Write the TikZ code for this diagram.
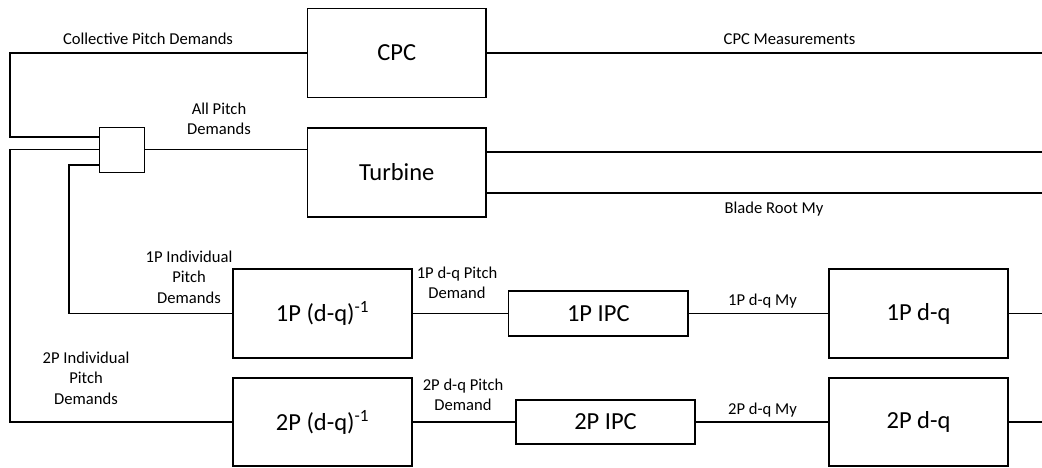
\documentclass[tikz,border=0pt]{standalone}
\usepackage{fontspec}
\setmainfont{Carlito}
\begin{document}
\begin{tikzpicture}[x=1pt,y=-1pt,
  blk/.style={draw,line width=1.1pt,rectangle,inner sep=0pt,font=\fontsize{24.5}{29}\selectfont},
  lbl/.style={align=center,inner sep=0pt,font=\fontsize{16.6}{20.5}\selectfont},
  wire/.style={line width=1.1pt}]
\useasboundingbox (0,0) rectangle (1042,467);
% blocks
\node[blk,minimum width=178.5pt,minimum height=89.5pt] (cpc) at (396.75,53) {CPC};
\node[blk,minimum width=178.5pt,minimum height=89pt] (turb) at (396.75,172.5) {Turbine};
\node[blk,minimum width=45pt,minimum height=45pt] (sum) at (121.7,149.8) {};
\node[blk,minimum width=179pt,minimum height=89pt] (inv1) at (322.5,313.5) {1P (d-q)\textsuperscript{-1}};
\node[blk,minimum width=179pt,minimum height=88pt] (inv2) at (322.5,422) {2P (d-q)\textsuperscript{-1}};
\node[blk,minimum width=179.3pt,minimum height=45pt] (ipc1) at (598.3,313.5) {1P IPC};
\node[blk,minimum width=179pt,minimum height=44pt] (ipc2) at (605.5,422) {2P IPC};
\node[blk,minimum width=179pt,minimum height=89pt] (dq1) at (918.5,313.5) {1P d-q};
\node[blk,minimum width=179pt,minimum height=88pt] (dq2) at (918.5,422) {2P d-q};
% free ends
\coordinate (cL) at (10,53);
\coordinate (l2) at (10,149.5);
\coordinate (l1) at (69,165);
\coordinate (rCPC) at (1042,53);
\coordinate (rT1) at (1042,152);
\coordinate (rT2) at (1042,193);
\coordinate (r1) at (1042,313.5);
\coordinate (r2) at (1042,422);
% wires
\draw[wire] (cpc.west) -- (cL) |- ([yshift=12.8pt]sum.west);
\draw[wire] (inv2.west) -| (l2) -- (l2 -| sum.west);
\draw[wire] (inv1.west) -| (l1) -- (l1 -| sum.west);
\draw[wire] (l2 -| sum.east) -- (l2 -| turb.west);
\draw[wire] (cpc.east) -- (rCPC);
\draw[wire] (rT1 -| turb.east) -- (rT1);
\draw[wire] (rT2 -| turb.east) -- (rT2);
\draw[wire] (inv1.east) -- (ipc1.west);
\draw[wire] (ipc1.east) -- (dq1.west);
\draw[wire] (dq1.east) -- (r1);
\draw[wire] (inv2.east) -- (ipc2.west);
\draw[wire] (ipc2.east) -- (dq2.west);
\draw[wire] (dq2.east) -- (r2);
% labels
\node[lbl] (tColl) at (148,39) {Collective Pitch Demands};
\node[lbl] (tMeas) at (789.5,39) {CPC Measurements};
\node[lbl] (tAll) at (219,119) {All Pitch\\Demands};
\node[lbl] (tBlade) at (774,209) {Blade Root My};
\node[lbl] (tI1) at (189,277) {1P Individual\\Pitch\\Demands};
\node[lbl] (tI2) at (86,378) {2P Individual\\Pitch\\Demands};
\node[lbl] (tP1) at (457,283) {1P d-q Pitch\\Demand};
\node[lbl] (tP2) at (463,395) {2P d-q Pitch\\Demand};
\node[lbl] (tM1) at (762.5,301) {1P d-q My};
\node[lbl] (tM2) at (762.5,410) {2P d-q My};
\end{tikzpicture}
\end{document}
